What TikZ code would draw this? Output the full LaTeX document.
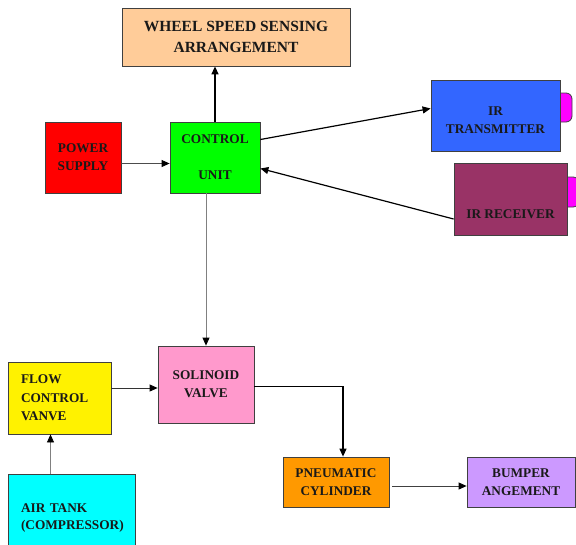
\documentclass[tikz,border=0pt]{standalone}
\usepackage{fontspec}
\setmainfont{Liberation Serif}
\usetikzlibrary{arrows.meta}

\definecolor{peach}{RGB}{255,204,153}
\definecolor{irblue}{RGB}{51,102,255}
\definecolor{irplum}{RGB}{153,51,102}
\definecolor{valvepink}{RGB}{255,153,204}
\definecolor{cylorange}{RGB}{255,153,0}
\definecolor{lavender}{RGB}{204,153,255}
\definecolor{tankcyan}{RGB}{0,255,255}
\definecolor{tabpink}{RGB}{255,0,255}
\definecolor{edge}{RGB}{64,64,64}

\tikzset{
  blk/.style={draw=edge, line width=.8pt, inner sep=0pt, align=center,
    text=black!90, font=\bfseries\fontsize{13.3}{18}\selectfont},
  tab/.style={draw=edge, line width=.8pt, fill=tabpink, rounded corners=6pt},
  arr/.style={-{Triangle[length=8pt,width=7pt,color=black]}, line width=.8pt},
  thickarr/.style={arr, line width=1.4pt},
  greyarr/.style={arr, draw=gray}
}

\begin{document}
\begin{tikzpicture}[x=1pt,y=-1pt]
\useasboundingbox (0,0) rectangle (576,544);
\clip (0,0) rectangle (576,544);

% top row
\node[blk, fill=peach, minimum width=228pt, minimum height=58pt,
  font=\bfseries\fontsize{15.5}{21}\selectfont] (wss) at (236,37)
  {WHEEL SPEED SENSING\\ARRANGEMENT};
\node[blk, fill=red, minimum width=76pt, minimum height=71pt] (ps) at (83,157.5)
  {POWER\\SUPPLY};
\node[blk, fill=green, minimum width=90pt, minimum height=71pt] (cu) at (215,157.5)
  {CONTROL\\[18pt]UNIT};

% ir pair, tabs first so the boxes sit on top
\draw[tab] (554,93) rectangle (572,122);
\node[blk, fill=irblue, minimum width=129pt, minimum height=71pt] (irt) at (495.5,115.5)
  {\rule{0pt}{18pt}IR\\TRANSMITTER};
\draw[tab] (561,177) rectangle (579,207);
\node[blk, fill=irplum, minimum width=113pt, minimum height=72pt,
  text height=38pt, text depth=0pt] (irr) at (510.5,199) {IR RECEIVER};

% pneumatic side
\node[blk, fill=valvepink, minimum width=96pt, minimum height=77pt] (sv) at (206,384.5)
  {SOLINOID\\VALVE};
\node[blk, fill=yellow, align=left, text width=77pt, inner xsep=13pt, minimum height=72pt,
  font=\bfseries\fontsize{13.3}{18.5}\selectfont] (fcv) at (59.5,398)
  {FLOW\\CONTROL\\VANVE};
\node[blk, fill=tankcyan, align=left, text width=101pt, inner xsep=13pt, minimum height=89pt,
  font=\bfseries\fontsize{13.3}{17}\selectfont] (at) at (71.5,518.5)
  {AIR TANK\\(COMPRESSOR)};
\node[blk, fill=cylorange, minimum width=106pt, minimum height=50pt] (pc) at (336,482)
  {PNEUMATIC\\CYLINDER};
\node[blk, fill=lavender, minimum width=108pt, minimum height=50pt] (bmp) at (521,482)
  {BUMPER\\ANGEMENT};

% connectors
\draw[thickarr] (cu.north) -- (cu.north |- wss.south);
\draw[arr, draw=black!70] ([yshift=-6pt]ps.east) -- ([yshift=-6pt]cu.west);
\draw[thickarr, line width=1.2pt] ([yshift=18pt]cu.east) -- ([yshift=7pt]irt.west);
\draw[thickarr, line width=1.2pt] ([yshift=-20pt]irr.west) -- ([yshift=-11pt]cu.east);
\draw[greyarr] (cu.south -| sv.north) -- (sv.north);
\path ([yshift=10pt]fcv.east) coordinate (fv1);
\draw[arr, draw=black!80] (fv1) -- (fv1 -| sv.west);
\path ([xshift=-9pt]fcv.south) coordinate (fv2);
\draw[greyarr] (fv2 |- at.north) -- (fv2);
\draw[thickarr, line width=1.2pt] ([yshift=-2pt]sv.east) -| ([xshift=7pt]pc.north);
\path ([xshift=3pt,yshift=-4pt]pc.east) coordinate (pc1);
\draw[arr, draw=black!75] (pc1) -- (pc1 -| bmp.west);
\end{tikzpicture}
\end{document}
